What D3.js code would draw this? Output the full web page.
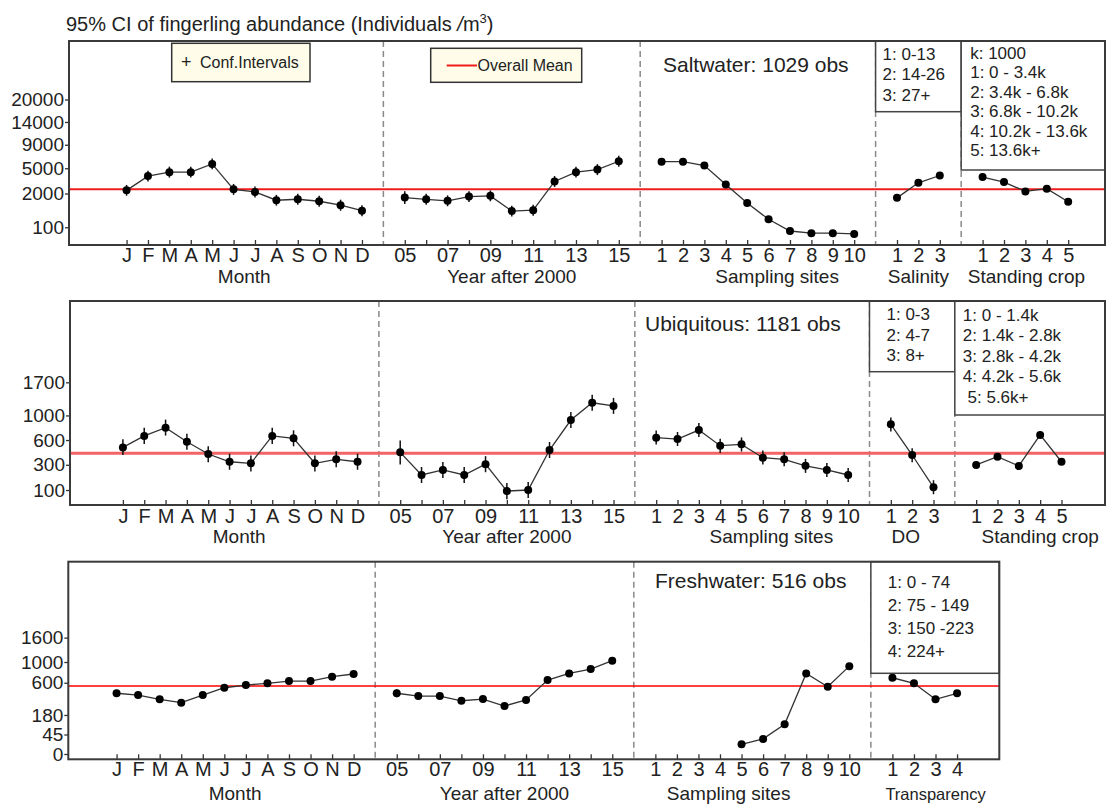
<!DOCTYPE html>
<html>
<head>
<meta charset="utf-8">
<script src="https://cdn.jsdelivr.net/npm/d3@7"></script>
<style>
  body { margin: 0; background: #fff; }
  text { font-family: "Liberation Sans", Arial, sans-serif; fill: #222; }
</style>
</head>
<body>
<svg id="chart" width="1106" height="805"></svg>
<script>
// Categories and tick labels
const months = ["J", "F", "M", "A", "M", "J", "J", "A", "S", "O", "N", "D"];
const yearLabels = ["05", "", "07", "", "09", "", "11", "", "13", "", "15"];
const sites = ["1", "2", "3", "4", "5", "6", "7", "8", "9", "10"];
const salinityCats = ["1", "2", "3"];
const doCats = ["1", "2", "3"];
const cropCats = ["1", "2", "3", "4", "5"];
const transparencyCats = ["1", "2", "3", "4"];

// y axis tick values for each panel
const saltTicks = [100, 2000, 5000, 9000, 14000, 20000];
const ubiqTicks = [100, 300, 600, 1000, 1700];
const freshTicks = [0, 45, 180, 600, 1000, 1600];

// Legends
const salinityLegend = ["1: 0-13", "2: 14-26", "3: 27+"];
const saltCropLegend = ["k: 1000", "1: 0 - 3.4k", "2: 3.4k - 6.8k", "3: 6.8k - 10.2k", "4: 10.2k - 13.6k", "5: 13.6k+"];
const doLegend = ["1: 0-3", "2: 4-7", "3: 8+"];
const ubiqCropLegend = ["1: 0 - 1.4k", "2: 1.4k - 2.8k", "3: 2.8k - 4.2k", "4: 4.2k - 5.6k", " 5: 5.6k+"];
const transparencyLegend = ["1: 0 - 74", "2: 75 - 149", "3: 150 -223", "4: 224+"];

// Series: [mean, lower CI, upper CI]
const saltMonth = [[2300,1800,2870],[3920,3250,4650],[4450,3730,5230],[4450,3730,5230],[5650,4840,6530],[2400,1880,2980],[2145,1660,2690],[1430,1040,1880],[1505,1100,1970],[1350,970,1800],[1070,730,1470],[730,460,1060]];
const saltYear = [[1640,1160,2210],[1505,1100,1970],[1380,1000,1830],[1725,1290,2220],[1790,1350,2290],[710,440,1040],[760,480,1100],[3260,2650,3930],[4450,3730,5230],[4810,4060,5610],[6070,5230,6970]];
const saltSite = [[6010,5700,6320],[6010,5700,6320],[5390,5100,5690],[2920,2710,3150],[1230,1100,1380],[330,260,400],[38,18,67],[15,4,35],[15,4,35],[10,1,27]];
const saltSalinity = [[1620,1460,1780],[3110,2890,3340],[4000,3750,4250]];
const saltCrop = [[3795,3550,4045],[3190,2970,3420],[2200,2020,2390],[2470,2280,2670],[1310,1170,1460]];

const ubiqMonth = [[500,405,610],[660,545,785],[787,665,925],[576,470,693],[418,327,516],[331,252,421],[315,237,401],[660,545,785],[625,514,746],[315,237,401],[357,275,450],[331,252,421]];
const ubiqYear = [[438,303,594],[206,145,278],[250,182,328],[206,145,278],[306,230,393],[94,54,144],[100,59,152],[466,372,572],[918,783,1064],[1246,1088,1415],[1183,1029,1348]];
const ubiqSite = [[634,537,741],[614,518,720],[750,644,866],[522,431,617],[540,448,637],[375,302,459],[357,285,438],[290,224,362],[250,190,318],[206,152,268]];
const ubiqDO = [[843,727,963],[406,327,490],[116,77,165]];
const ubiqCrop = [[298,276,316],[386,366,411],[288,270,309],[674,641,701],[331,310,353]];

const freshMonth = [[436,408,466],[411,385,441],[353,328,380],[311,286,335],[411,385,441],[519,489,552],[562,529,595],[590,557,625],[629,596,665],[629,596,665],[706,671,745],[756,719,795]];
const freshYear = [[436,381,496],[397,369,424],[397,369,424],[335,310,361],[357,332,384],[272,250,295],[346,321,372],[645,611,681],[767,730,806],[853,813,893],[1030,987,1075]];
const freshSite = [null,null,null,null,[11,7,16],[27,20,34],[104,90,119],[767,730,806],[534,502,566],[912,871,954]];
const freshTransparency = [[687,651,723],[590,557,625],[353,328,380],[436,408,466]];

// Overall means
const overallMeans = [2400, 426, 546];

// first x position of each group along the shared axis
const groupStarts = [0, 13, 25, 36, 40];
const separators = [12, 24, 35, 39];

const panels = [
  {
    top: 41, bottom: 245, left: 69, right: 1105, xDom: [-2.69, 45.72], yDom: [-68, 40650],
    ticks: saltTicks, mean: overallMeans[0], meanColor: "#ee1c1c", meanWidth: 2,
    tickPad: 3, titleY: 283,
    label: "Saltwater: 1029 obs", labelX: 663, labelY: 72,
    groups: [
      { labels: months, data: saltMonth, title: "Month", at: 5.5 },
      { labels: yearLabels, data: saltYear, title: "Year after 2000", at: 18 },
      { labels: sites, data: saltSite, title: "Sampling sites", at: 30.4 },
      { labels: salinityCats, data: saltSalinity, title: "Salinity", at: 37 },
      { labels: cropCats, data: saltCrop, title: "Standing crop", at: 42.05 }
    ],
    legends: [
      { from: 35, to: 39, bottom: 111.7, lines: salinityLegend, y0: 59.5, step: 20.9, indent: 7 },
      { from: 39, to: null, bottom: 170, lines: saltCropLegend, y0: 58.5, step: 19.5, indent: 9 }
    ]
  },
  {
    top: 301, bottom: 505, left: 70, right: 1105, xDom: [-2.48, 46.04], yDom: [32, 4199],
    ticks: ubiqTicks, mean: overallMeans[1], meanColor: "#f26464", meanWidth: 3,
    tickPad: 4, titleY: 543,
    label: "Ubiquitous: 1181 obs", labelX: 645, labelY: 331,
    groups: [
      { labels: months, data: ubiqMonth, title: "Month", at: 5.45 },
      { labels: yearLabels, data: ubiqYear, title: "Year after 2000", at: 18 },
      { labels: sites, data: ubiqSite, title: "Sampling sites", at: 30.4 },
      { labels: doCats, data: ubiqDO, title: "DO", at: 36.7 },
      { labels: cropCats, data: ubiqCrop, title: "Standing crop", at: 43.0 }
    ],
    legends: [
      { from: 35, to: 39, bottom: 371.7, lines: doLegend, y0: 320, step: 20.5, indent: 17 },
      { from: 39, to: null, bottom: 415, lines: ubiqCropLegend, y0: 321, step: 20.4, indent: 8 }
    ]
  },
  {
    top: 561.7, bottom: 759.3, left: 68.3, right: 999.3, xDom: [-2.24, 40.96], yDom: [-3.3, 4369],
    ticks: freshTicks, mean: overallMeans[2], meanColor: "#ff0000", meanWidth: 1.6,
    tickPad: 2, titleY: 800,
    label: "Freshwater: 516 obs", labelX: 655, labelY: 587.5,
    groups: [
      { labels: months, data: freshMonth, title: "Month", at: 5.5 },
      { labels: yearLabels, data: freshYear, title: "Year after 2000", at: 18 },
      { labels: sites, data: freshSite, title: "Sampling sites", at: 28.4 },
      { labels: transparencyCats, data: freshTransparency, title: "Transparency", at: 38, small: true }
    ],
    legends: [
      { from: 35, to: null, bottom: 673.3, lines: transparencyLegend, y0: 588, step: 23, indent: 17 }
    ]
  }
];

const svg = d3.select("#chart");

// title
const title = svg.append("text").attr("x", 66).attr("y", 31).attr("font-size", 20);
title.append("tspan").text("95% CI of fingerling abundance (Individuals ");
title.append("tspan").attr("font-style", "italic").text("/");
title.append("tspan").text("m");
title.append("tspan").attr("font-size", 13).attr("dy", -8).text("3");
title.append("tspan").attr("dy", 8).text(")");

panels.forEach(p => {
  const x = d3.scaleLinear().domain(p.xDom).range([p.left, p.right]);
  const y = d3.scalePow().exponent(0.5).domain(p.yDom).range([p.bottom, p.top]);
  const g = svg.append("g");

  // group separators
  separators.filter(s => s < p.xDom[1] - 2).forEach(s => {
    g.append("line")
      .attr("x1", x(s)).attr("x2", x(s))
      .attr("y1", p.top).attr("y2", p.bottom)
      .attr("stroke", "#8a8a8a").attr("stroke-width", 1.5)
      .attr("stroke-dasharray", "6,4");
  });

  // overall mean
  g.append("line")
    .attr("x1", p.left).attr("x2", p.right)
    .attr("y1", y(p.mean)).attr("y2", y(p.mean))
    .attr("stroke", p.meanColor).attr("stroke-width", p.meanWidth);

  // legend boxes in the upper right
  p.legends.forEach(l => {
    const x0 = x(l.from), x1 = l.to === null ? p.right : x(l.to);
    g.append("rect")
      .attr("x", x0).attr("y", p.top)
      .attr("width", x1 - x0).attr("height", l.bottom - p.top)
      .attr("fill", "#fff").attr("stroke", "#444").attr("stroke-width", 1.5);
    l.lines.forEach((t, i) => {
      g.append("text")
        .attr("x", x0 + l.indent).attr("y", l.y0 + i * l.step)
        .attr("font-size", 17).attr("xml:space", "preserve")
        .text(t);
    });
  });

  // groups: lines, CIs, points, x ticks
  p.groups.forEach((gr, i) => {
    const start = groupStarts[i];
    const pts = gr.data.map((d, j) => ({ pos: start + j, d: d }));
    const valid = pts.filter(o => o.d);

    g.append("path")
      .datum(valid)
      .attr("fill", "none").attr("stroke", "#333").attr("stroke-width", 1.3)
      .attr("d", d3.line().x(o => x(o.pos)).y(o => y(o.d[0])));

    g.selectAll(null).data(valid).join("line")
      .attr("x1", o => x(o.pos)).attr("x2", o => x(o.pos))
      .attr("y1", o => y(o.d[1])).attr("y2", o => y(o.d[2]))
      .attr("stroke", "#111").attr("stroke-width", 1.5);

    g.selectAll(null).data(valid).join("circle")
      .attr("cx", o => x(o.pos)).attr("cy", o => y(o.d[0]))
      .attr("r", 4).attr("fill", "#000");

    const axis = d3.axisBottom(x)
      .tickValues(pts.map(o => o.pos))
      .tickFormat((v, j) => gr.labels[j])
      .tickSizeInner(-5).tickSizeOuter(0).tickPadding(p.tickPad);
    g.append("g")
      .attr("transform", `translate(0,${p.bottom})`)
      .call(axis)
      .call(a => a.select(".domain").remove())
      .call(a => a.selectAll("line").attr("stroke", "#333").attr("stroke-width", 1.3))
      .call(a => a.selectAll("text")
        .attr("font-size", 20)
        .attr("font-family", "Liberation Sans, Arial, sans-serif")
        .attr("fill", "#222"));

    g.append("text")
      .attr("x", x(gr.at)).attr("y", p.titleY)
      .attr("text-anchor", "middle")
      .attr("font-size", gr.small ? 16.5 : 19)
      .text(gr.title);
  });

  // y axis
  g.append("g")
    .attr("transform", `translate(${p.left},0)`)
    .call(d3.axisLeft(y).tickValues(p.ticks).tickFormat(d3.format("d")).tickSize(4).tickPadding(1))
    .call(a => a.select(".domain").remove())
    .call(a => a.selectAll("line").attr("stroke", "#333").attr("stroke-width", 1.3))
    .call(a => a.selectAll("text")
      .attr("font-size", 19)
      .attr("font-family", "Liberation Sans, Arial, sans-serif")
      .attr("fill", "#222"));

  // panel frame
  g.append("rect")
    .attr("x", p.left).attr("y", p.top)
    .attr("width", p.right - p.left).attr("height", p.bottom - p.top)
    .attr("fill", "none").attr("stroke", "#3a3a3a").attr("stroke-width", 2);

  g.append("text")
    .attr("x", p.labelX).attr("y", p.labelY)
    .attr("font-size", 21)
    .text(p.label);
});

// legends of the first panel
const lg = svg.append("g");
lg.append("rect").attr("x", 171.7).attr("y", 43.3).attr("width", 138.3).attr("height", 38.4)
  .attr("fill", "#fffde9").attr("stroke", "#333").attr("stroke-width", 1.5);
lg.append("text").attr("x", 181).attr("y", 68).attr("font-size", 18).text("+");
lg.append("text").attr("x", 200).attr("y", 68).attr("font-size", 16).text("Conf.Intervals");
lg.append("rect").attr("x", 430.7).attr("y", 48.3).attr("width", 151).attr("height", 34)
  .attr("fill", "#fffde9").attr("stroke", "#333").attr("stroke-width", 1.5);
lg.append("line").attr("x1", 446.7).attr("x2", 477).attr("y1", 65.5).attr("y2", 65.5)
  .attr("stroke", "#ee1c1c").attr("stroke-width", 2);
lg.append("text").attr("x", 477.5).attr("y", 71).attr("font-size", 16).text("Overall Mean");
</script>
</body>
</html>
